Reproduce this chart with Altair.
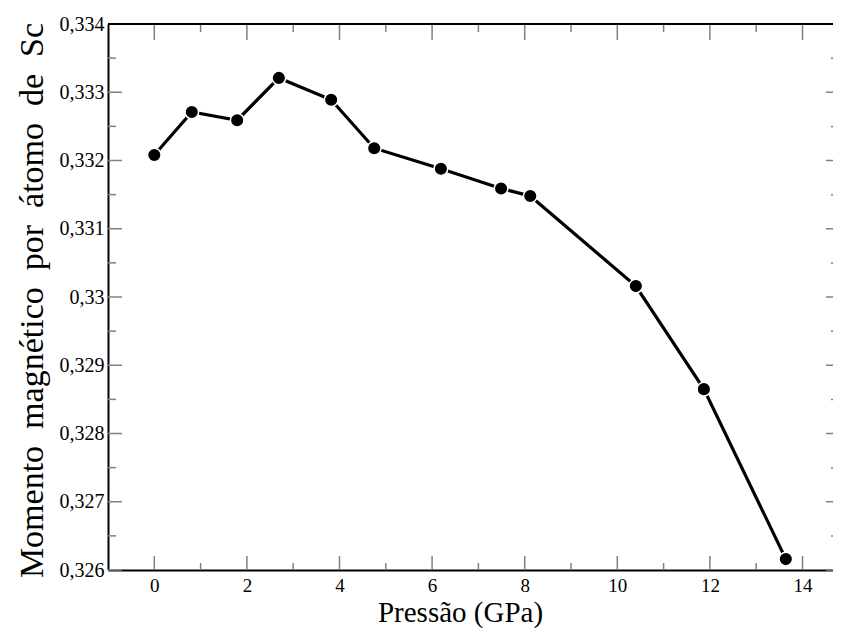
import altair as alt
import pandas as pd

# data
pressure = [0.0, 0.81, 1.79, 2.69, 3.82, 4.75, 6.19, 7.49, 8.12, 10.40, 11.87, 13.64]
moment = [0.33208, 0.33271, 0.33259, 0.33321, 0.33289, 0.33218, 0.33188,
          0.33159, 0.33148, 0.33016, 0.32865, 0.32616]

x_major = [0, 2, 4, 6, 8, 10, 12, 14]
x_minor = [1, 3, 5, 7, 9, 11, 13]
y_major = [0.326, 0.327, 0.328, 0.329, 0.330, 0.331, 0.332, 0.333, 0.334]
y_minor = [0.3265, 0.3275, 0.3285, 0.3295, 0.3305, 0.3315, 0.3325, 0.3335]

x_title = "Pressão (GPa)"
y_title = "\u00a0\u00a0".join(["Momento", "magnético", "por", "átomo", "de", "Sc"])

W, H = 725, 546
FONT = "Liberation Serif"
TICK_COLOR = "#808080"

xscale = alt.Scale(domain=[-1, -1 + W / 46.3], nice=False, zero=False)
yscale = alt.Scale(domain=[0.326, 0.334], nice=False, zero=False)

df = pd.DataFrame({"p": pressure, "m": moment})

xaxis = alt.Axis(
    values=x_major, ticks=False, grid=False, domainColor="black", domainWidth=2,
    labelFont=FONT, labelFontSize=19, labelColor="black", labelPadding=6,
    title=x_title, titleFont=FONT, titleFontSize=29, titleFontWeight="normal",
    titleColor="black", titleX=352, titleY=51, titleBaseline="alphabetic",
    titleAlign="center",
)
yaxis = alt.Axis(
    values=y_major, ticks=False, grid=False, domainColor="black", domainWidth=2,
    labelFont=FONT, labelFontSize=20, labelColor="black", labelPadding=4,
    labelExpr="replace(format(datum.value, '.3~f'), '.', ',')",
    title=y_title, titleFont=FONT, titleFontSize=34, titleFontWeight="normal",
    titleColor="black", titleAngle=-90, titleX=-66, titleY=H / 2 + 3,
    titleBaseline="alphabetic", titleAlign="center",
)

line = alt.Chart(df).mark_line(color="black", strokeWidth=3.2).encode(
    x=alt.X("p:Q", scale=xscale, axis=xaxis),
    y=alt.Y("m:Q", scale=yscale, axis=yaxis),
)
points = alt.Chart(df).mark_circle(
    size=185, fill="black", stroke="white", strokeWidth=1.5, opacity=1
).encode(
    x=alt.X("p:Q", scale=xscale, axis=xaxis),
    y=alt.Y("m:Q", scale=yscale, axis=yaxis),
)

dxM = pd.DataFrame({"p": x_major})
dxm = pd.DataFrame({"p": x_minor})
dyM = pd.DataFrame({"m": y_major})
dym = pd.DataFrame({"m": y_minor})


def xt(d, y0, y1):
    return alt.Chart(d).mark_rule(color=TICK_COLOR, strokeWidth=1.5).encode(
        x=alt.X("p:Q", scale=xscale, axis=xaxis),
        y=alt.value(y0), y2=alt.value(y1),
    )


def yt(d, x0, x1):
    return alt.Chart(d).mark_rule(color=TICK_COLOR, strokeWidth=1.5).encode(
        y=alt.Y("m:Q", scale=yscale, axis=yaxis),
        x=alt.value(x0), x2=alt.value(x1),
    )


ticks = [
    xt(dxM, H, H - 14), xt(dxm, H, H - 7),
    xt(dxM, 0, 16), xt(dxm, 0, 8),
    yt(dyM, 0, 14), yt(dym, 0, 8),
    yt(dyM, W - 7, W), yt(dym, W - 2, W),
]

top_line = alt.Chart(df).mark_rule(color="black", strokeWidth=2).encode(
    x=alt.value(0), x2=alt.value(W), y=alt.value(0)
)

chart = alt.layer(line, *ticks, top_line, points).properties(
    width=W, height=H,
    padding={"left": 100, "top": 16, "right": 0, "bottom": 58},
    autosize=alt.AutoSizeParams(type="none"),
).configure_view(stroke=None).configure(background="white")

chart.save("out.html", embed_options={"renderer": "svg", "actions": False})
